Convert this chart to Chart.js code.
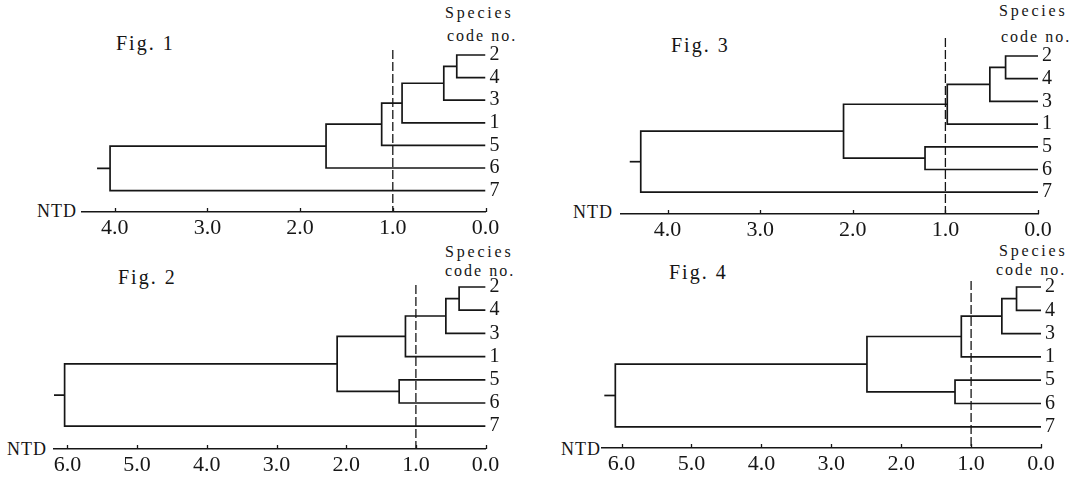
<!DOCTYPE html>
<html>
<head>
<meta charset="utf-8">
<script src="https://cdn.jsdelivr.net/npm/chart.js@4.4.1/dist/chart.umd.min.js"></script>
<style>
  body { margin: 0; background: #fff; width: 1074px; height: 478px; position: relative; overflow: hidden;
         font-family: "Liberation Serif", "DejaVu Serif", serif; color: #151515; }
  canvas { position: absolute; }
  .t { position: absolute; white-space: nowrap; line-height: 1; }
  .fig { font-size: 20px; letter-spacing: 2px; }
  .sp { font-size: 16px; letter-spacing: 2.8px; }
  .cn { font-size: 16px; letter-spacing: 2px; }
  .ntd { font-size: 18px; letter-spacing: 1px; }
</style>
</head>
<body>
<div class="t fig" style="left:116px;top:33px">Fig. 1</div>
<div class="t fig" style="left:671px;top:35px">Fig. 3</div>
<div class="t fig" style="left:118px;top:267px">Fig. 2</div>
<div class="t fig" style="left:669px;top:262px">Fig. 4</div>

<div class="t sp" style="left:445px;top:5px">Species</div>
<div class="t cn" style="left:447px;top:28px">code no.</div>
<div class="t sp" style="left:999px;top:3px">Species</div>
<div class="t cn" style="left:1001px;top:29px">code no.</div>
<div class="t sp" style="left:445px;top:244px">Species</div>
<div class="t cn" style="left:445px;top:263px">code no.</div>
<div class="t sp" style="left:999px;top:243px">Species</div>
<div class="t cn" style="left:996px;top:262px">code no.</div>

<div class="t ntd" style="left:37px;top:202px">NTD</div>
<div class="t ntd" style="left:573px;top:203px">NTD</div>
<div class="t ntd" style="left:7px;top:440px">NTD</div>
<div class="t ntd" style="left:561px;top:440px">NTD</div>

<canvas id="f1" width="537" height="239" style="left:0;top:0"></canvas>
<canvas id="f3" width="537" height="239" style="left:537px;top:0"></canvas>
<canvas id="f2" width="537" height="239" style="left:0;top:239px"></canvas>
<canvas id="f4" width="537" height="239" style="left:537px;top:239px"></canvas>

<script>
// species code of each row, top to bottom
const leafOrder = ['2', '4', '3', '1', '5', '6', '7'];

// merges, linkage style: 0-6 are rows above, 7+ are earlier merges
const chainPairs = [[0, 1], [7, 2], [8, 3], [9, 4], [10, 5], [11, 6]];
const splitPairs = [[0, 1], [7, 2], [8, 3], [4, 5], [9, 10], [11, 6]];

// NTD at each merge
const fig1Heights = [0.31, 0.45, 0.90, 1.12, 1.72, 4.05];
const fig2Heights = [0.38, 0.57, 1.15, 1.24, 2.13, 6.04];
const fig3Heights = [0.35, 0.52, 0.98, 1.22, 2.10, 4.29];
const fig4Heights = [0.35, 0.56, 1.14, 1.23, 2.49, 6.09];

const ticksTo4 = [0, 1, 2, 3, 4];
const ticksTo6 = [0, 1, 2, 3, 4, 5, 6];
const cutoff = 1.0;

const INK = '#161616';
const AX_H = 28;   // x axis band height
const AX_W = 24;   // leaf label band width
const FONT = '"Liberation Serif", "DejaVu Serif", serif';

// page layout of each panel (pixels)
const panels = [
  { id: 'f1', pairs: chainPairs, heights: fig1Heights, ticks: ticksTo4,
    ox: 0, oy: 0, x0: 485.5, xu: 92.7, xStart: 82, leaf0: 55, sp: 22.6, axisY: 212, top: 50, stub: 13 },
  { id: 'f3', pairs: splitPairs, heights: fig3Heights, ticks: ticksTo4,
    ox: 537, oy: 0, x0: 1038, xu: 92.6, xStart: 621, leaf0: 56, sp: 22.7, axisY: 214, top: 38, stub: 11 },
  { id: 'f2', pairs: splitPairs, heights: fig2Heights, ticks: ticksTo6,
    ox: 0, oy: 239, x0: 485.6, xu: 69.7, xStart: 54, leaf0: 287, sp: 23.2, axisY: 449, top: 285, stub: 11 },
  { id: 'f4', pairs: splitPairs, heights: fig4Heights, ticks: ticksTo6,
    ox: 537, oy: 239, x0: 1041, xu: 69.9, xStart: 602, leaf0: 287, sp: 23.3, axisY: 448, top: 281, stub: 11 }
];

function buildLines(pairs, heights, stub) {
  const nodes = leafOrder.map((_, i) => ({ x: 0, y: i }));
  const lines = [];
  pairs.forEach(([a, b], k) => {
    const A = nodes[a], B = nodes[b], h = heights[k];
    lines.push([{ x: A.x, y: A.y }, { x: h, y: A.y }, { x: h, y: B.y }, { x: B.x, y: B.y }]);
    nodes.push({ x: h, y: (A.y + B.y) / 2 });
  });
  const root = nodes[nodes.length - 1];
  lines.push([{ x: root.x, y: root.y }, { x: root.x + stub, y: root.y }]);
  return lines;
}

// small tick marks pointing up from the NTD axis
const upTicks = {
  id: 'upTicks',
  afterDraw(chart) {
    const { ctx, scales: { x } } = chart;
    ctx.save();
    ctx.strokeStyle = INK;
    ctx.lineWidth = 1.3;
    x.ticks.forEach(t => {
      const px = Math.round(x.getPixelForValue(t.value)) + 0.5;
      ctx.beginPath();
      ctx.moveTo(px, x.top);
      ctx.lineTo(px, x.top - 4);
      ctx.stroke();
    });
    ctx.restore();
  }
};

panels.forEach(p => {
  const xMax = (p.x0 - p.xStart) / p.xu;
  const yMin = (p.top - p.leaf0) / p.sp;
  const yMax = (p.axisY - p.leaf0) / p.sp;

  const datasets = buildLines(p.pairs, p.heights, p.stub / p.xu).map(pts => ({
    data: pts, showLine: true, borderColor: INK, borderWidth: 1.7, pointRadius: 0, tension: 0
  }));
  // cut-off line
  datasets.push({
    data: [{ x: cutoff, y: yMin }, { x: cutoff, y: yMax }],
    showLine: true, borderColor: INK, borderWidth: 1.3, borderDash: [9, 3], pointRadius: 0
  });

  new Chart(document.getElementById(p.id), {
    type: 'scatter',
    data: { datasets },
    plugins: [upTicks],
    options: {
      responsive: false,
      animation: false,
      events: [],
      layout: {
        padding: {
          left: p.xStart - p.ox,
          top: p.top - p.oy,
          right: 537 - (p.x0 - p.ox) - AX_W,
          bottom: 239 - (p.axisY - p.oy) - AX_H
        }
      },
      plugins: { legend: { display: false }, tooltip: { enabled: false } },
      scales: {
        x: {
          type: 'linear', reverse: true, min: 0, max: xMax,
          afterBuildTicks: s => { s.ticks = p.ticks.map(v => ({ value: v })); },
          afterFit: s => { s.height = AX_H; },
          grid: { display: false, drawTicks: false },
          border: { display: true, color: INK, width: 1.6 },
          ticks: {
            color: INK, padding: 3, maxRotation: 0, autoSkip: false,
            font: { family: FONT, size: 22 },
            callback: v => v.toFixed(1)
          }
        },
        y: {
          type: 'linear', position: 'right', reverse: true, min: yMin, max: yMax,
          afterBuildTicks: s => { s.ticks = leafOrder.map((_, i) => ({ value: i })); },
          afterFit: s => { s.width = AX_W; },
          grid: { display: false, drawTicks: false },
          border: { display: false },
          ticks: {
            color: INK, padding: 4, autoSkip: false,
            font: { family: FONT, size: 20 },
            callback: v => leafOrder[v]
          }
        }
      }
    }
  });
});
</script>
</body>
</html>
